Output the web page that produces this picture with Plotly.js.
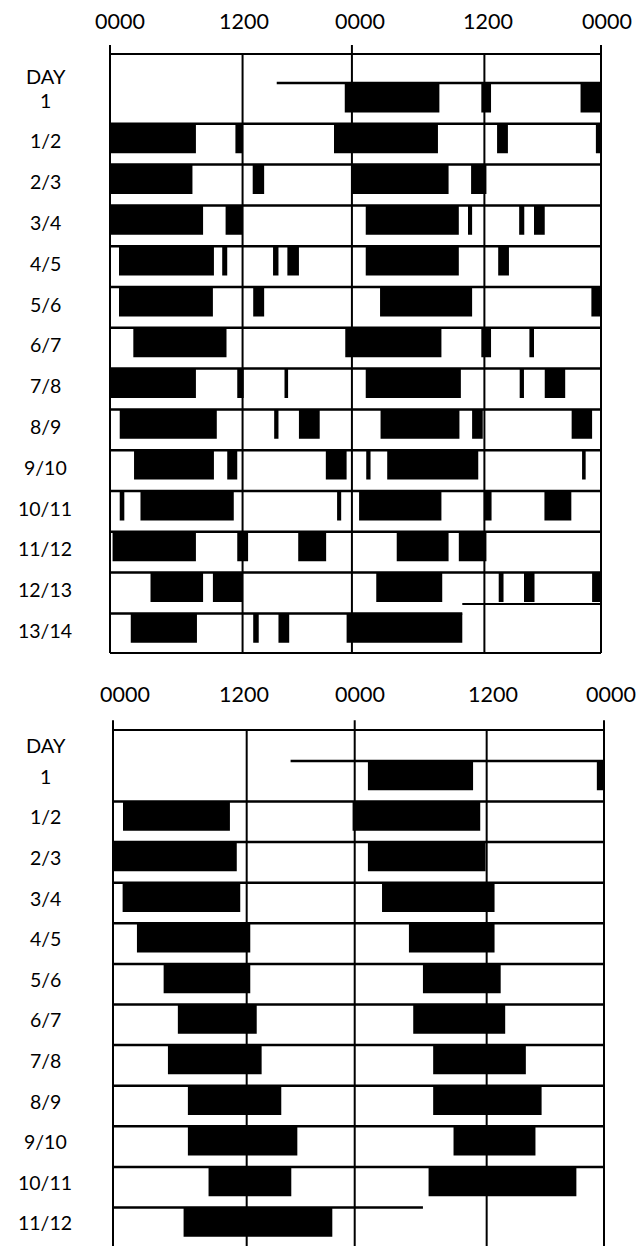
<!DOCTYPE html>
<html><head><meta charset="utf-8">
<script src="https://cdn.plot.ly/plotly-3.0.1.min.js"></script>
<style>html,body{margin:0;padding:0;background:#fff}</style>
</head><body><div id="chart" style="width:641px;height:1246px"></div>
<script>
// ---------------- data (hours on the 48-h double-plotted axis, as drawn) ----------------
const tickText = ["0000", "1200", "0000", "1200", "0000"];
const rowLabelsTop = ["1","1/2","2/3","3/4","4/5","5/6","6/7","7/8","8/9","9/10","10/11","11/12","12/13","13/14"];
const rowLabelsBottom = ["1","1/2","2/3","3/4","4/5","5/6","6/7","7/8","8/9","9/10","10/11","11/12"];

// activity bouts per row: [onset, offset]
const boutsTop = [
  [[22.95,32.2],[36.3,37.25],[46.0,48]],
  [[0,8.4],[12.26,12.96],[21.9,32.06],[37.84,38.9],[47.5,48]],
  [[0,8.06],[13.95,15.07],[23.65,33.1],[35.3,36.8]],
  [[0,9.1],[11.3,12.96],[25,34.1],[35,35.4],[40,40.5],[41.45,42.5]],
  [[0.88,10.16],[10.97,11.46],[15.94,16.47],[17.34,18.47],[25,34.1],[37.95,39.0]],
  [[0.88,10.06],[14.0,15.07],[26.4,35.4],[47.06,48]],
  [[2.28,11.39],[23.0,32.4],[36.3,37.25],[41.0,41.45]],
  [[0,8.4],[12.44,13.07],[17.06,17.41],[25,34.3],[40.05,40.47],[42.5,44.5]],
  [[0.95,10.44],[16.05,16.47],[18.47,20.5],[26.45,34.16],[35.4,36.44],[45.13,47.13]],
  [[2.35,10.16],[11.46,12.44],[21.1,23.13],[25.05,25.47],[27.1,36.0],[46.15,46.5]],
  [[0.95,1.4],[2.98,12.1],[22.2,22.6],[24.35,32.4],[36.55,37.3],[42.47,45.1]],
  [[0.25,8.4],[12.44,13.5],[18.4,21.13],[28.03,33.1],[34.1,36.8]],
  [[3.96,9.1],[10.06,12.96],[26.03,32.48],[38.0,38.47],[40.47,41.5],[47.13,48]],
  [[2.03,8.5],[14.0,14.54],[16.47,17.52],[23.13,34.44]]
];
const boutsBottom = [
  [[24.92,35.2],[47.3,48]],
  [[0.98,11.43],[23.42,35.9]],
  [[0,12.1],[24.92,36.42]],
  [[0.94,12.44],[26.3,37.3]],
  [[2.34,13.42],[28.93,37.3]],
  [[4.95,13.42],[30.3,37.9]],
  [[6.34,14.05],[29.35,38.34]],
  [[5.37,14.53],[31.3,40.36]],
  [[7.32,16.45],[31.3,41.9]],
  [[7.32,18.02],[33.29,41.3]],
  [[9.34,17.43],[30.85,45.3]],
  [[6.9,21.44]]
];

// recording window (start on day 1, end on last row)
const recStartTop = 16.3, recEndTop = 34.44;
const recStartBottom = 17.36, recEndBottom = 30.3;

// hour positions of the drawn 0000/1200 rules and of their labels
const ruleHoursTop = [0, 12.96, 23.65, 36.6, 48];
const ruleHoursBottom = [0, 13.07, 23.63, 36.53, 48];
const tickHoursTop = [0.98, 13.1, 24.4, 37.0, 48.6];
const tickHoursBottom = [1.17, 12.8, 24.1, 37.1, 48.7];

// ---------------- layout geometry ----------------
const W = 641, H = 1246;
const FONT = "Lato, 'Open Sans', 'DejaVu Sans', sans-serif";
const BAR_DEPTH = 0.72;

const panels = [
  {xa:'x', ya:'y', xk:'xaxis', yk:'yaxis', x0px:110, x48px:601, row0px:83, rowPx:40.8,
   xr:[-1, 49.5], yTop:-1.7, yBot:14.1, frameTop:-0.71, tickTop:-0.93, frameBottom:13.97,
   drawBottom:true, closeLast:true, tickY:-1.52, dayY:-0.17, labelOff:0.42,
   labels:rowLabelsTop, bouts:boutsTop, rules:ruleHoursTop, ticks:tickHoursTop,
   recStart:recStartTop, recEnd:recEndTop},
  {xa:'x2', ya:'y2', xk:'xaxis2', yk:'yaxis2', x0px:113, x48px:604, row0px:760.9, rowPx:40.6,
   xr:[-1, 49.5], yTop:-1.8, yBot:null, frameTop:-0.76, tickTop:-1.0, frameBottom:null,
   drawBottom:false, closeLast:false, tickY:-1.64, dayY:-0.39, labelOff:0.38,
   labels:rowLabelsBottom, bouts:boutsBottom, rules:ruleHoursBottom, ticks:tickHoursBottom,
   recStart:recStartBottom, recEnd:recEndBottom}
];

const layout = {
  width: W, height: H, margin: {l:0, r:0, t:0, b:0},
  paper_bgcolor: '#fff', plot_bgcolor: 'rgba(0,0,0,0)',
  showlegend: false, shapes: [], annotations: [],
  font: {family: FONT, color: '#000'}
};
const traces = [];

function hline(p, y, x0, x1, w) {
  layout.shapes.push({type:'line', xref:p.xa, yref:p.ya, x0:x0, x1:x1, y0:y, y1:y,
    line:{color:'#000', width:w}});
}
function vline(p, x, y0, y1, w) {
  layout.shapes.push({type:'line', xref:p.xa, yref:p.ya, x0:x, x1:x, y0:y0, y1:y1,
    line:{color:'#000', width:w}});
}

panels.forEach(p => {
  const pph = (p.x48px - p.x0px) / 48;
  const xd = [(p.x0px + p.xr[0]*pph)/W, (p.x0px + p.xr[1]*pph)/W];
  let yBot = p.yBot;
  if (yBot === null) yBot = (H - p.row0px) / p.rowPx;
  const pyTop = p.row0px + p.yTop*p.rowPx, pyBot = p.row0px + yBot*p.rowPx;
  const yd = [Math.max(0, 1 - pyBot/H), 1 - pyTop/H];
  const axBase = {visible:false, showgrid:false, zeroline:false, fixedrange:true};
  layout[p.xk] = Object.assign({}, axBase, {range:p.xr, domain:xd, anchor:p.ya});
  layout[p.yk] = Object.assign({}, axBase, {range:[yBot, p.yTop], domain:yd, anchor:p.xa});

  const frameBottom = p.frameBottom === null ? yBot : p.frameBottom;
  const nRows = p.labels.length;

  // frame
  hline(p, p.frameTop, 0, 48, 2);
  if (p.drawBottom) hline(p, frameBottom, 0, 48, 2.2);
  // vertical rules (0000 rules rise above the frame as tick marks)
  p.rules.forEach((h, i) => {
    vline(p, h, i % 2 === 0 ? p.tickTop : p.frameTop, frameBottom, 2);
  });
  // row base lines
  for (let r = 0; r < nRows; r++) {
    let a = 0, b = 48;
    if (r === 0) a = p.recStart;
    if (r === nRows - 1) b = p.recEnd;
    hline(p, r, a, b, 2.5);
  }
  if (p.closeLast) hline(p, nRows - 2 + BAR_DEPTH + 0.05, p.recEnd, 48, 2);

  // activity bars
  const xs = [], ys = [];
  p.bouts.forEach((row, r) => {
    row.forEach(([a, b]) => {
      xs.push(a, b, b, a, a, null);
      ys.push(r, r, r + BAR_DEPTH, r + BAR_DEPTH, r, null);
    });
  });
  traces.push({type:'scatter', mode:'lines', x:xs, y:ys, xaxis:p.xa, yaxis:p.ya,
    fill:'toself', fillcolor:'#000', line:{width:0, color:'#000'}, hoverinfo:'skip'});

  // tick labels
  p.ticks.forEach((h, i) => {
    layout.annotations.push({xref:p.xa, yref:p.ya, x:h, y:p.tickY, text:tickText[i],
      showarrow:false, xanchor:'center', yanchor:'middle', font:{family:FONT, size:21.5, color:'#000'}});
  });
  // row labels
  layout.annotations.push({xref:'paper', yref:p.ya, x:46/W, y:p.dayY, text:'DAY',
    showarrow:false, xanchor:'center', yanchor:'middle', font:{family:FONT, size:20, color:'#000'}});
  p.labels.forEach((t, r) => {
    layout.annotations.push({xref:'paper', yref:p.ya, x:45/W, y:r + p.labelOff, text:t,
      showarrow:false, xanchor:'center', yanchor:'middle', font:{family:FONT, size:19.5, color:'#000'}});
  });
});

Plotly.newPlot('chart', traces, layout, {staticPlot:true, displayModeBar:false});
</script>
</body></html>
